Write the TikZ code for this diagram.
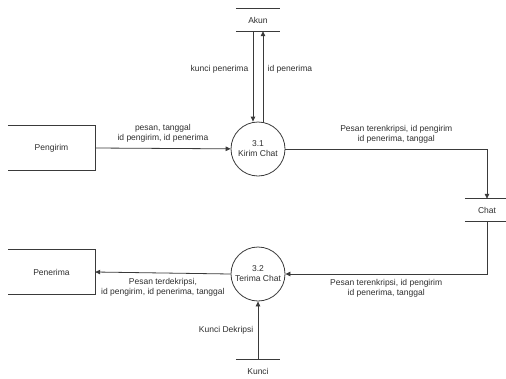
\documentclass[tikz,border=0pt]{standalone}
\usepackage{fontspec}
\setmainfont{Liberation Sans}
\usetikzlibrary{arrows.meta,positioning,calc}
\definecolor{lnd}{HTML}{3A3A3A}
\definecolor{txd}{HTML}{2E2E2E}
\tikzset{
  % process bubble, store and entity of the DFD
  proc/.style   = {circle, draw=lnd, thick, minimum size=54pt, inner sep=0pt,
                   align=center, font=\fontsize{8.5}{10}\selectfont, text=txd},
  store/.style  = {minimum width=44pt, minimum height=22pt, inner sep=0pt,
                   font=\fontsize{8.5}{10}\selectfont, text=txd},
  ent/.style    = {minimum width=87pt, minimum height=44pt, inner sep=0pt,
                   font=\fontsize{8.5}{10}\selectfont, text=txd},
  flow/.style   = {-{Triangle[length=5pt,width=4.5pt]}, thick, lnd},
  edge/.style   = {thick, lnd},
  lbl/.style    = {font=\fontsize{8.5}{10}\selectfont, text=txd, align=center},
}
\begin{document}
\begin{tikzpicture}[x=1pt,y=-1pt]
\useasboundingbox (0,0) rectangle (506,378);
% entities and stores
\node[ent]   (pengirim) at (51.5,148) {Pengirim};
\node[ent]   (penerima) at (51.5,272) {Penerima};
\node[store] (akun)  at (258,20)  {Akun};
\node[store] (chat)  at (487,210) {Chat};
\node[store] (kunci) at (258,371) {Kunci};
\draw[edge] (pengirim.north west) -- (pengirim.north east) -- (pengirim.south east) -- (pengirim.south west);
\draw[edge] (penerima.north west) -- (penerima.north east) -- (penerima.south east) -- (penerima.south west);
\draw[edge] (akun.north west) -- (akun.north east) (akun.south west) -- (akun.south east);
\draw[edge] (chat.north west) -- (chat.north east) (chat.south west) -- (chat.south east);
\draw[edge] (kunci.north west) -- (kunci.north east);
% processes
\node[proc] (kirim)  at (258,149) {3.1\\Kirim Chat};
\node[proc] (terima) at (258,274) {3.2\\Terima Chat};
% flows
\draw[flow] (pengirim.east) -- node[lbl, above=2pt]{pesan, tanggal\\id pengirim, id penerima} (kirim);
\draw[flow] ([xshift=-5pt]akun.south) -- node[lbl, left=1pt, pos=0.42]{kunci penerima} ([xshift=-5pt]kirim.north);
\draw[flow] ([xshift=5pt]kirim.north) -- node[lbl, right=1pt, pos=0.58]{id penerima} ([xshift=5pt]akun.south);
\draw[flow] (kirim.east) -- node[lbl, above=2pt, pos=0.55]{Pesan terenkripsi, id pengirim\\id penerima, tanggal} (kirim.east -| chat.north) -- (chat.north);
\draw[flow] (chat.south) -- (chat.south |- terima.east) -- node[lbl, below=2pt, pos=0.5]{Pesan terenkripsi, id pengirim\\id penerima, tanggal} (terima.east);
\draw[flow] (terima.west) -- node[lbl, below=2pt]{Pesan terdekripsi,\\id pengirim, id penerima, tanggal} (penerima.east);
\draw[flow] (kunci.north) -- node[lbl, left=1pt, pos=0.5]{Kunci Dekripsi} (terima.south);
\end{tikzpicture}
\end{document}
